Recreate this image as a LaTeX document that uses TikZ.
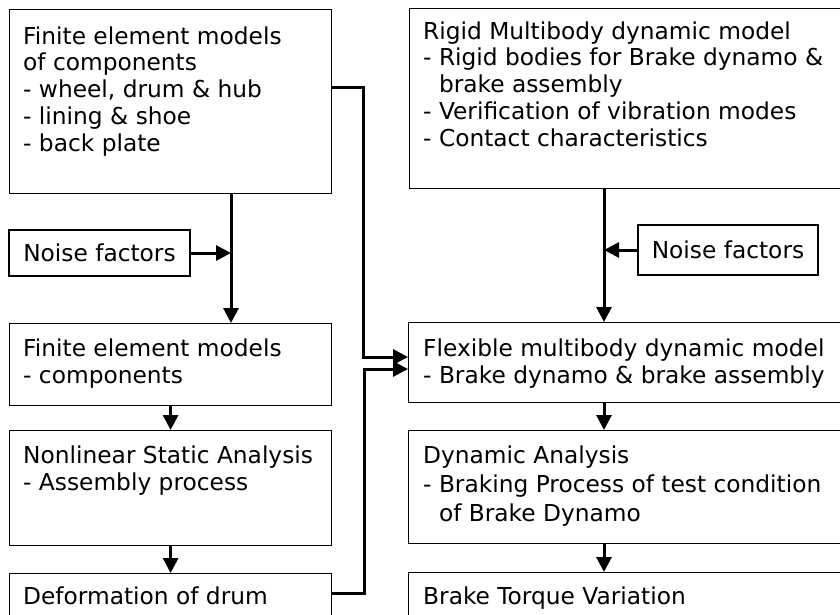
\documentclass[tikz,border=0pt]{standalone}
\usepackage{fontspec}
\setmainfont{DejaVu Sans}
\usetikzlibrary{arrows.meta,calc}
\newcommand\boxlead{\rule{0pt}{20pt}}
\tikzset{
  box/.style={draw, line width=1.2pt, rectangle, inner sep=0pt, anchor=north west},
  txt/.style={anchor=north west, inner sep=0pt, align=left,
    font=\fontsize{23.3}{26.8}\selectfont},
  widetxt/.style={txt, font=\fontsize{23.3}{29.2}\selectfont},
  noisebox/.style={draw, line width=1.2pt, rectangle, inner sep=0pt,
    font=\fontsize{23.3}{26.8}\selectfont},
  flow/.style={line width=3pt, -{Triangle[length=15pt,width=15pt]}},
}
\begin{document}
\begin{tikzpicture}[x=1pt,y=-1pt]
\useasboundingbox (0,0) rectangle (840,615);
\clip (0,0) rectangle (840,615);
\fill[white] (0,0) rectangle (840,615);

% left column
\node[box, minimum width=322pt, minimum height=184pt] (A) at (9,9) {};
\node[txt] (At) at (23,24) {\boxlead Finite element models\\of components\\- wheel, drum \& hub\\- lining \& shoe\\- back plate};
\node[noisebox, minimum width=181pt, minimum height=46pt] (NL) at (99.5,253) {Noise factors};
\node[box, minimum width=322pt, minimum height=82pt] (B) at (9,323) {};
\node[txt] (Bt) at (23,336) {\boxlead Finite element models\\- components};
\node[box, minimum width=322pt, minimum height=115pt] (C) at (9,430) {};
\node[txt] (Ct) at (23,443) {\boxlead Nonlinear Static Analysis\\- Assembly process};
\node[box, minimum width=322pt, minimum height=70pt] (D) at (9,573) {};
\node[txt] (Dt) at (23,584) {\boxlead Deformation of drum};

% right column
\node[box, minimum width=450pt, minimum height=180pt] (R) at (409,8) {};
\node[txt] (Rt) at (423,19) {\boxlead Rigid Multibody dynamic model\\- Rigid bodies for Brake dynamo \&\\\phantom{- }brake assembly\\- Verification of vibration modes\\- Contact characteristics};
\node[noisebox, minimum width=180pt, minimum height=50pt] (NR) at (728,250) {Noise factors};
\node[box, minimum width=450pt, minimum height=80pt] (F) at (408,322) {};
\node[txt] (Ft) at (423,336) {\boxlead Flexible multibody dynamic model\\- Brake dynamo \& brake assembly};
\node[box, minimum width=450pt, minimum height=113pt] (G) at (408,430) {};
\node[widetxt] (Gt) at (423,443) {\boxlead Dynamic Analysis\\- Braking Process of test condition\\\phantom{- }of Brake Dynamo};
\node[box, minimum width=450pt, minimum height=70pt] (H) at (408,572) {};
\node[txt] (Ht) at (423,584) {\boxlead Brake Torque Variation};

% routing points
\coordinate (lx) at (231,0);
\coordinate (rx) at (604,0);
\coordinate (j1) at (363,88);
\coordinate (j2) at (363,357);
\coordinate (k1) at (364,593);
\coordinate (k2) at (364,369);

% connectors
\draw[flow] (A.south -| lx) -- (B.north -| lx);
\draw[flow] (NL.east) -- (NL.east -| lx);
\draw[flow] (B.south) -- (C.north);
\draw[flow] (C.south) -- (D.north);
\draw[flow] (A.east |- j1) -- (j1) -- (j2) -- (F.west |- j2);
\draw[flow] (D.east |- k1) -- (k1) -- (k2) -- (F.west |- k2);
\draw[flow] (R.south -| rx) -- (F.north -| rx);
\draw[flow] (NR.west) -- (NR.west -| rx);
\draw[flow] (F.south -| rx) -- (G.north -| rx);
\draw[flow] (G.south -| rx) -- (H.north -| rx);
\end{tikzpicture}
\end{document}
